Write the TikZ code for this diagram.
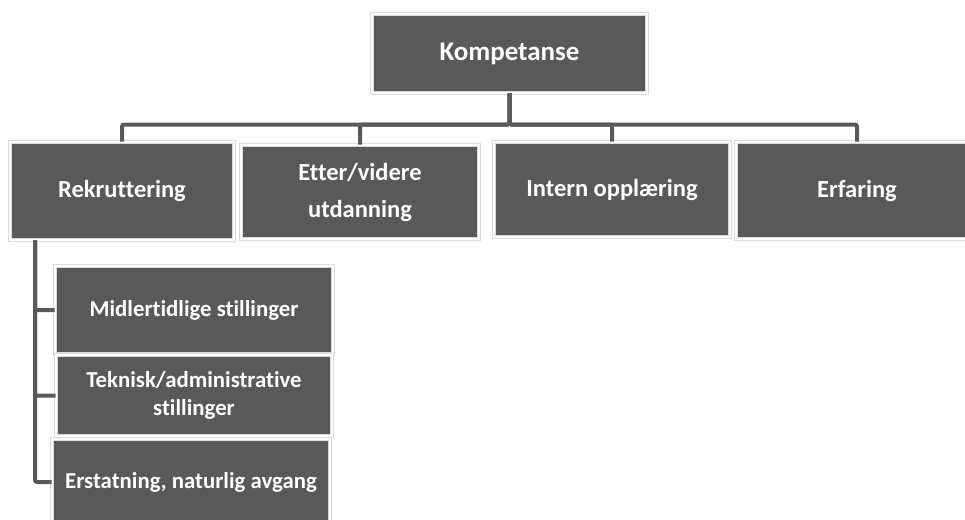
\documentclass[tikz,border=0pt]{standalone}
\usepackage{fontspec}
\setmainfont{Carlito}[Ligatures=NoCommon]
\usepackage{tikz}
\usetikzlibrary{positioning}
\definecolor{boxgray}{HTML}{595959}
\definecolor{rimgray}{HTML}{D9D9D9}
\tikzset{
  every picture/.append style={line width=0.6pt},
}

\begin{document}
\begin{tikzpicture}[
  x=1pt, y=-1pt,
  box/.style    ={fill=boxgray, draw=rimgray, double=white, double distance=2.5pt,
                  line width=0.6pt, text=white, align=center, inner sep=2pt},
  topbox/.style ={box, font=\fontsize{27}{37}\selectfont\bfseries},
  midbox/.style ={box, font=\fontsize{24.5}{37}\selectfont\bfseries},
  subbox/.style ={box, font=\fontsize{22.8}{28}\selectfont\bfseries},
  conn/.style   ={draw=boxgray, line width=4pt, rounded corners=2pt}
]
\useasboundingbox (0,0) rectangle (965,519);

\node[topbox, minimum width=275, minimum height=79] (komp) at (509.5,53.5) {Kompetanse};

\node[midbox, minimum width=224, minimum height=98] (rek)    at (122,191)   {Rekruttering};
\node[midbox, minimum width=238, minimum height=94] (etter)  at (360,192)   {Etter/videre\\utdanning};
\node[midbox, minimum width=236, minimum height=95] (intern) at (612,189.5) {Intern opplæring};
\node[midbox, minimum width=242, minimum height=97] (erf)    at (857,190.5) {Erfaring};

\node[subbox, minimum width=278, minimum height=88] (midl) at (194,310)   {Midlertidlige stillinger};
\node[subbox, minimum width=276, minimum height=81] (tekn) at (194,395.5) {Teknisk/administrative\\stillinger};
\node[subbox, minimum width=278, minimum height=86] (erst) at (191,482)   {Erstatning, naturlig avgang};

\coordinate (bus) at (512,124.5);
\coordinate (spine) at ([xshift=-87pt]rek.south);

\foreach \n in {rek,etter,intern,erf}
  \draw[conn] (komp.south) |- (bus -| \n.north) -- (\n.north);
\foreach \n in {midl,tekn,erst}
  \draw[conn] (spine) |- (\n.west);

\end{tikzpicture}
\end{document}
